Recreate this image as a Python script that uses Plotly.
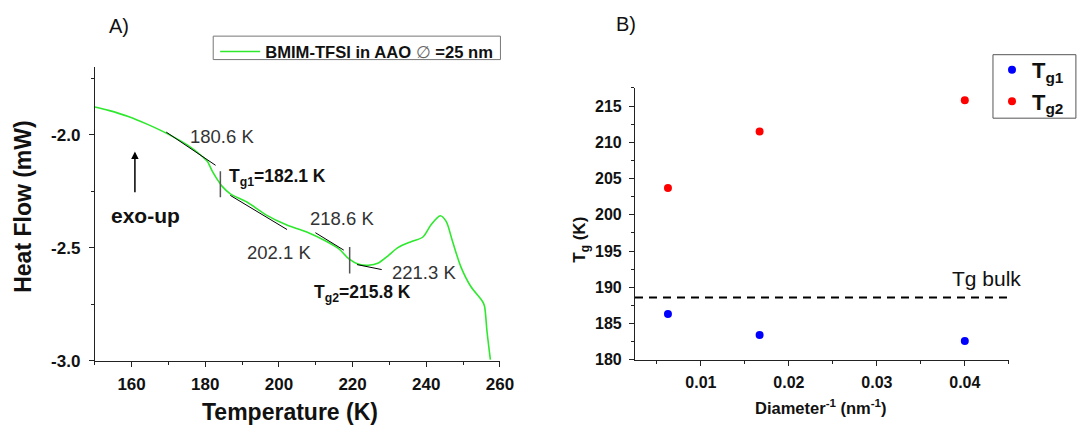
import plotly.graph_objects as go

# ---------------- Panel A data (DSC trace) ----------------
temperature_K = [150.0, 153.75, 159.1, 164.5, 169.8, 175.2, 179.2, 180.6, 181.9, 183.2,
                 184.6, 186.8, 191.3, 196.6, 202.0, 207.4, 212.7, 216.3, 219.0, 221.7,
                 224.3, 227.0, 229.7, 232.4, 236.0, 239.1, 241.3, 243.8, 245.4, 247.1,
                 249.4, 252.1, 255.2, 255.8, 256.5, 257.4]
heat_flow_mW = [-1.878, -1.893, -1.920, -1.956, -1.997, -2.047, -2.097, -2.119, -2.162, -2.197,
                -2.229, -2.262, -2.298, -2.356, -2.399, -2.430, -2.471, -2.506, -2.550, -2.574,
                -2.578, -2.568, -2.535, -2.499, -2.473, -2.453, -2.399, -2.359, -2.384, -2.471,
                -2.585, -2.672, -2.736, -2.758, -2.873, -2.995]

# tangent segments (start/end temperature and heat flow)
tangent_T = [[169.4, 182.8], [186.8, 202.2], [209.9, 217.6], [221.2, 227.9]]
tangent_HF = [[-1.989, -2.136], [-2.269, -2.420], [-2.434, -2.511], [-2.575, -2.597]]
# Tg marker bars
tg_bar_T = [184.1, 219.2]
tg_bar_HF = [[-2.162, -2.277], [-2.497, -2.614]]

# annotations (text, T, HF, bold, size)
labels_A = [
    ("180.6 K", 175.2, -2.008, False, 18.5),
    ("T<sub>g1</sub>=182.1 K", 185.8, -2.190, True, 17.5),
    ("218.6 K", 207.8, -2.373, False, 18.5),
    ("202.1 K", 190.8, -2.521, False, 18.5),
    ("221.3 K", 230.2, -2.611, False, 18.5),
    ("T<sub>g2</sub>=215.8 K", 208.9, -2.703, True, 17.5),
    ("exo-up", 154.0, -2.356, True, 21),
]
arrow_T = 160.9
arrow_HF = [-2.262, -2.075]

yA_tickvals = [-3.0, -2.5, -2.0]
yA_ticktext = ["-3.0", "-2.5", "-2.0"]
xA_tickvals = [160, 180, 200, 220, 240, 260]

# ---------------- Panel B data ----------------
inv_diameter = [0.00625, 0.01667, 0.04]
Tg1 = [186.3, 183.4, 182.6]
Tg2 = [203.7, 211.5, 215.8]
Tg_bulk = 188.6
xB_range = [0.0025, 0.045]

FONT = "Liberation Sans, Arial, sans-serif"
GREEN = "#2ee82e"
W, H = 1082, 430


def px_x(p):
    return p / W


def px_y(p):
    return 1 - p / H


fig = go.Figure()

fig.add_trace(go.Scatter(
    x=temperature_K, y=heat_flow_mW, mode="lines",
    line=dict(color=GREEN, width=1.6, shape="spline", smoothing=0.8),
    name="BMIM-TFSI in AAO <span style='font-weight:normal;color:#666'>∅</span> =25 nm",
    xaxis="x", yaxis="y", legend="legend"))

for tx, ty in zip(tangent_T, tangent_HF):
    fig.add_trace(go.Scatter(x=tx, y=ty, mode="lines", line=dict(color="black", width=1),
                             showlegend=False, xaxis="x", yaxis="y", hoverinfo="skip"))
for bx, by in zip(tg_bar_T, tg_bar_HF):
    fig.add_trace(go.Scatter(x=[bx, bx], y=by, mode="lines", line=dict(color="#555", width=1.5),
                             showlegend=False, xaxis="x", yaxis="y", hoverinfo="skip"))

# Panel B traces
fig.add_trace(go.Scatter(x=xB_range, y=[Tg_bulk, Tg_bulk], mode="lines",
                         line=dict(color="black", width=2, dash="8px,6px"),
                         showlegend=False, xaxis="x2", yaxis="y2", hoverinfo="skip"))
fig.add_trace(go.Scatter(x=inv_diameter, y=Tg1, mode="markers",
                         marker=dict(color="#0000ff", size=8), name="T<sub>g1</sub>",
                         xaxis="x2", yaxis="y2", legend="legend2"))
fig.add_trace(go.Scatter(x=inv_diameter, y=Tg2, mode="markers",
                         marker=dict(color="#ff0000", size=8), name="T<sub>g2</sub>",
                         xaxis="x2", yaxis="y2", legend="legend2"))

annotations = []
for text, tx, ty, bold, size in labels_A:
    annotations.append(dict(
        text=text, x=tx, y=ty, xref="x", yref="y", xanchor="left", yanchor="middle",
        showarrow=False,
        font=dict(family=FONT, size=size, color="#111" if bold else "#333",
                  weight="bold" if bold else "normal")))
annotations.append(dict(x=arrow_T, y=arrow_HF[1], ax=arrow_T, ay=arrow_HF[0],
                        xref="x", yref="y", axref="x", ayref="y", text="",
                        showarrow=True, arrowhead=2, arrowsize=1, arrowwidth=1.5,
                        arrowcolor="black"))
annotations.append(dict(text="Tg bulk", x=0.0383, y=191.2, xref="x2", yref="y2",
                        xanchor="left", yanchor="middle", showarrow=False,
                        font=dict(family=FONT, size=21, color="#111")))


def paper_text(text, cx, cy, size, bold=False, angle=0):
    return dict(text=text, x=px_x(cx), y=px_y(cy), xref="paper", yref="paper",
                xanchor="center", yanchor="middle", textangle=angle, showarrow=False,
                font=dict(family=FONT, size=size, color="#111",
                          weight="bold" if bold else "normal"))


annotations += [
    paper_text("A)", 121, 27, 20),
    paper_text("B)", 634, 25, 20),
    paper_text("Heat Flow (mW)", 23, 211, 23, True, -90),
    paper_text("Temperature (K)", 293.5, 422, 23, True),
    paper_text("T<sub>g</sub> (K)", 589, 245, 17, True, -90),
    paper_text("Diameter<sup>-1</sup> (nm<sup>-1</sup>)", 832, 417, 16.5, True),
]

# legend frames
shapes = [
    dict(type="rect", xref="paper", yref="paper", x0=px_x(216), x1=px_x(507),
         y0=px_y(61), y1=px_y(37), line=dict(color="#777", width=1)),
    dict(type="rect", xref="paper", yref="paper", x0=px_x(1006), x1=px_x(1090),
         y0=px_y(121), y1=px_y(56), line=dict(color="#555", width=1)),
]

axis_common = dict(showgrid=False, zeroline=False, showline=True, linecolor="#222",
                   linewidth=1, ticks="outside", ticklen=5, tickwidth=1, tickcolor="#222",
                   mirror=False)
tickfont = dict(family=FONT, size=17, color="#111", weight="bold")
tickfontB = dict(family=FONT, size=16, color="#111", weight="bold")

fig.update_layout(
    width=W, height=H, margin=dict(l=0, r=0, t=0, b=0),
    paper_bgcolor="white", plot_bgcolor="white",
    xaxis=dict(domain=[px_x(96), px_x(506.5)], range=[150, 260], anchor="y",
               tickmode="array", tickvals=xA_tickvals, tickfont=tickfont,
               ticklabelstandoff=3,
               minor=dict(tick0=150, dtick=10, ticklen=3, ticks="outside", tickcolor="#222"),
               **axis_common),
    yaxis=dict(domain=[1 - 369.3 / H, 1 - 68.3 / H], range=[-3.0, -1.70],
               anchor="x", tickmode="array", tickvals=yA_tickvals, ticktext=yA_ticktext,
               tickfont=tickfont, ticklabelstandoff=5,
               minor=dict(tick0=-3.0, dtick=0.25, ticklen=3, ticks="outside", tickcolor="#222"),
               **axis_common),
    xaxis2=dict(domain=[px_x(643.3), px_x(1022)], range=xB_range, anchor="y2",
                tickmode="linear", tick0=0.01, dtick=0.01, tickformat=".2f",
                tickfont=tickfontB, ticklabelstandoff=3,
                minor=dict(tick0=0.005, dtick=0.005, ticklen=3, ticks="outside", tickcolor="#222"),
                **axis_common),
    yaxis2=dict(domain=[1 - 368.3 / H, 1 - 90 / H], range=[180, 217.5],
                anchor="x2", tickmode="linear", tick0=180, dtick=5,
                tickfont=tickfontB, ticklabelstandoff=4,
                minor=dict(tick0=180, dtick=2.5, ticklen=3, ticks="outside", tickcolor="#222"),
                **axis_common),
    legend=dict(x=px_x(218), y=px_y(35), xanchor="left", yanchor="top",
                borderwidth=0, bgcolor="rgba(0,0,0,0)",
                font=dict(family=FONT, size=16.6, color="#111", weight="bold"),
                tracegroupgap=0, itemwidth=40),
    legend2=dict(x=px_x(1005), y=px_y(50), xanchor="left", yanchor="top",
                 borderwidth=0, bgcolor="rgba(0,0,0,0)",
                 font=dict(family=FONT, size=22, color="#111", weight="bold"),
                 tracegroupgap=0),
    annotations=annotations,
    shapes=shapes,
    showlegend=True,
)

fig.write_html("out.html", config={"displayModeBar": False},
               post_script="document.body.style.margin='0px';")
